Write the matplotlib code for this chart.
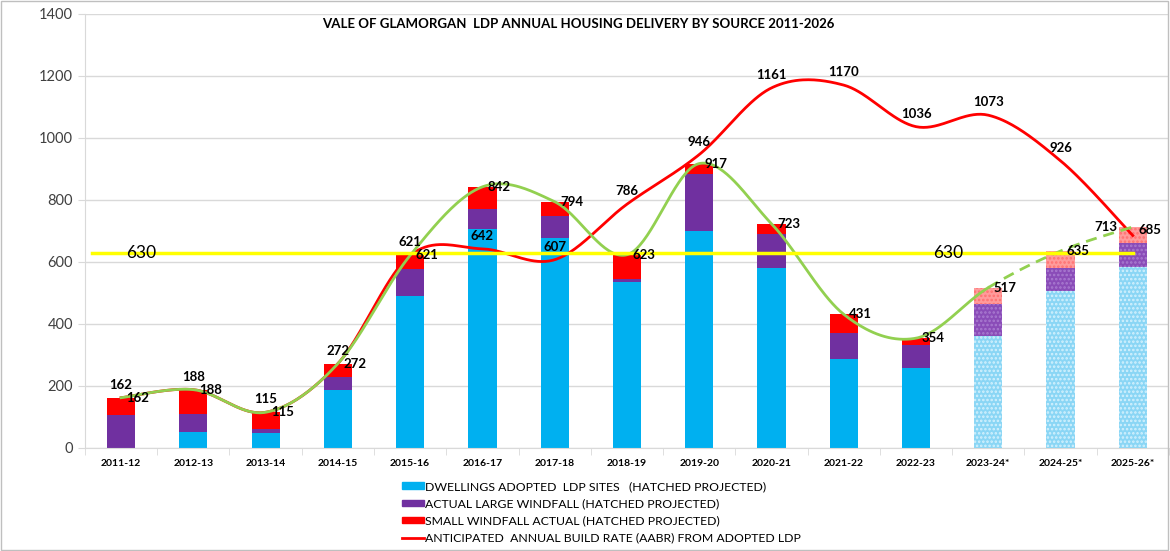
import numpy as np
import matplotlib
matplotlib.use("Agg")
import matplotlib.pyplot as plt
from matplotlib.patches import Patch, Rectangle
from matplotlib.lines import Line2D

years = ["2011-12", "2012-13", "2013-14", "2014-15", "2015-16", "2016-17", "2017-18",
         "2018-19", "2019-20", "2020-21", "2021-22", "2022-23", "2023-24*", "2024-25*", "2025-26*"]
ldp_sites = [0, 53, 49, 187, 490, 705, 678, 535, 700, 581, 288, 259, 361, 506, 585]
large_windfall = [106, 57, 11, 41, 87, 66, 71, 10, 184, 110, 82, 72, 102, 74, 75]
small_windfall = [56, 78, 55, 44, 44, 71, 45, 78, 33, 32, 61, 23, 54, 55, 53]
aabr = [162, 188, 115, 272, 621, 642, 607, 786, 946, 1161, 1170, 1036, 1073, 926, 685]
completions = [162, 188, 115, 272, 621, 842, 794, 623, 917, 723, 431, 354, 517, 635, 713]
projected = [False] * 12 + [True] * 3
target = 630

plt.rcParams['font.family'] = ['Lato', 'DejaVu Sans']
plt.rcParams['hatch.linewidth'] = 1.2

fig = plt.figure(figsize=(11.7, 5.51), dpi=100)
ax = fig.add_axes([0.0726, 0.187, 0.9265, 0.788])

x = np.arange(len(years))
w = 0.39
blue, purple, red = '#00b0f0', '#7030a0', '#ff0000'
pblue, ppurple, pred = '#8ad6f5', '#8a4cb8', '#ff9b9b'

bottom = np.zeros(len(years))
for vals, c, pc, hc in [(ldp_sites, blue, pblue, '#d4f1fd'),
                        (large_windfall, purple, ppurple, '#a97bd0'),
                        (small_windfall, red, pred, '#ff7070')]:
    v = np.array(vals, dtype=float)
    for i in range(len(years)):
        if projected[i]:
            ax.bar(x[i], v[i], w, bottom=bottom[i], color=pc, edgecolor=hc,
                   hatch='....', linewidth=0, zorder=2)
        else:
            ax.bar(x[i], v[i], w, bottom=bottom[i], color=c, linewidth=0, zorder=2)
    bottom += v


def excel_smooth(xs, ys, n=40):
    xs = np.asarray(xs, float)
    ys = np.asarray(ys, float)
    P = np.column_stack([xs, ys])
    out = []
    m = len(P)
    for i in range(m - 1):
        p0 = P[i - 1] if i > 0 else P[i]
        p1 = P[i]
        p2 = P[i + 1]
        p3 = P[i + 2] if i + 2 < m else P[i + 1]
        c1 = p1 + (p2 - p0) / 6.0
        c2 = p2 - (p3 - p1) / 6.0
        t = np.linspace(0, 1, n)[:, None]
        seg = ((1 - t) ** 3) * p1 + 3 * ((1 - t) ** 2) * t * c1 + 3 * (1 - t) * t ** 2 * c2 + t ** 3 * p2
        if i > 0:
            seg = seg[1:]
        out.append(seg)
    return np.vstack(out)


# AABR red line
ra = excel_smooth(x, aabr)
ax.plot(ra[:, 0], ra[:, 1], color=red, lw=2, zorder=4)

# completions green line: solid to 2023-24, dashed after
ga = excel_smooth(x, completions)
split = 12
solid = ga[ga[:, 0] <= split + 1e-9]
dashed = ga[ga[:, 0] >= split - 1e-9]
ax.plot(solid[:, 0], solid[:, 1], color='#92d050', lw=2, zorder=5)
ax.plot(dashed[:, 0], dashed[:, 1], color='#92d050', lw=2, ls=(0, (4, 2.5)), zorder=5)

# target line
ax.plot([-0.4, 14.0], [target, target], color='#ffff00', lw=2.5, zorder=6)
ax.text(0.28, target, str(target), fontsize=12.5, va='center', ha='center', zorder=7)
ax.text(11.45, target, str(target), fontsize=12.5, va='center', ha='center', zorder=7)

# labels
last = len(years) - 1
for i in range(len(years)):
    if i == last:
        ax.annotate(str(aabr[i]), (x[i], aabr[i]), xytext=(4, 4), textcoords='offset points',
                    ha='left', va='center', fontsize=9.5, fontweight='bold', zorder=8)
        ax.annotate(str(completions[i]), (x[i], completions[i]), xytext=(-11, 0),
                    textcoords='offset points', ha='right', va='center', fontsize=9.5,
                    fontweight='bold', zorder=8)
        continue
    ax.annotate(str(aabr[i]), (x[i], aabr[i]), xytext=(0, 5), textcoords='offset points',
                ha='center', va='bottom', fontsize=9.5, fontweight='bold', zorder=8)
    ax.annotate(str(completions[i]), (x[i], completions[i]), xytext=(4, 0), textcoords='offset points',
                ha='left', va='center', fontsize=9.5, fontweight='bold', zorder=8)

ax.set_xlim(-0.5, len(years) - 0.5)
ax.set_ylim(0, 1400)
ax.set_yticks(range(0, 1401, 200))
ax.yaxis.grid(True, color='#d9d9d9', lw=1)
ax.set_axisbelow(True)
ax.tick_params(axis='y', labelsize=10.5, colors='#404040', length=5, color='#d9d9d9')
ax.set_xticks(x)
ax.set_xticklabels(years, fontsize=7.5, fontweight='bold')
ax.set_xticks(np.arange(-0.5, len(years), 1), minor=True)
ax.tick_params(axis='x', which='major', length=0, pad=8)
ax.tick_params(axis='x', which='minor', length=5, color='#d9d9d9')
for s in ['top', 'right']:
    ax.spines[s].set_visible(False)
ax.spines['left'].set_color('#d9d9d9')
ax.spines['bottom'].set_color('#d9d9d9')

ax.text(0.455, 0.99, 'VALE OF GLAMORGAN  LDP ANNUAL HOUSING DELIVERY BY SOURCE 2011-2026',
        transform=ax.transAxes, ha='center', va='top', fontsize=9.5, fontweight='bold')

handles = [Patch(color=blue), Patch(color=purple), Patch(color=red),
           Line2D([0], [0], color=red, lw=2)]
labels = ['DWELLINGS ADOPTED  LDP SITES   (HATCHED PROJECTED)',
          'ACTUAL LARGE WINDFALL (HATCHED PROJECTED)',
          'SMALL WINDFALL ACTUAL (HATCHED PROJECTED)',
          'ANTICIPATED  ANNUAL BUILD RATE (AABR) FROM ADOPTED LDP']
fig.legend(handles, labels, loc='upper left', bbox_to_anchor=(0.338, 0.138), frameon=False,
           fontsize=8.8, handlelength=1.8, handleheight=0.45, handletextpad=0.1,
           labelspacing=0.5, borderpad=0)

fig.patches.append(Rectangle((0.001, 0.001), 0.997, 0.997, transform=fig.transFigure,
                             fill=False, edgecolor='#bfbfbf', lw=1))

fig.savefig('out.png', dpi=100)
